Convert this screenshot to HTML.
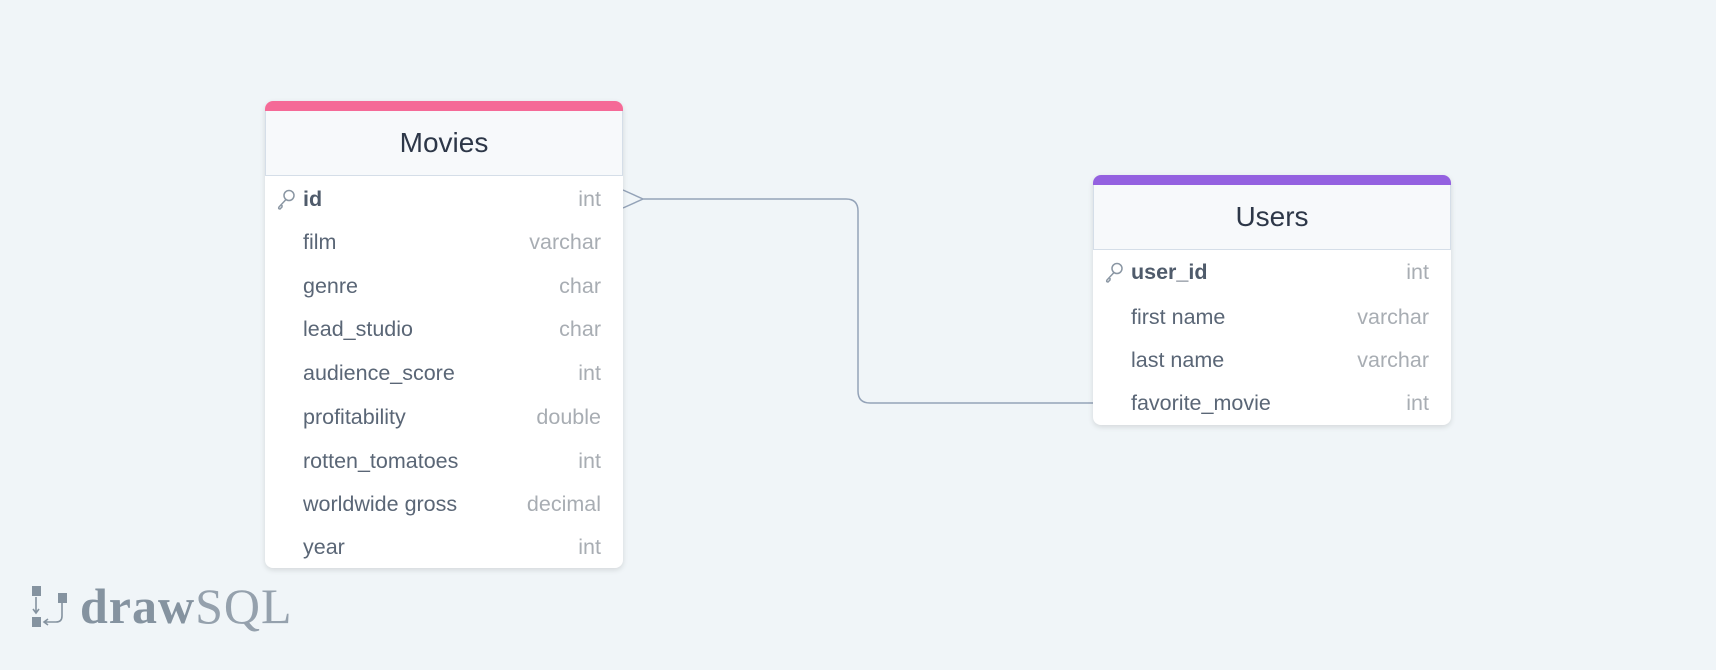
<!DOCTYPE html>
<html><head><style>
body{margin:0;width:1716px;height:670px;background:#f0f5f8;position:relative;overflow:hidden;font-family:"Liberation Sans",sans-serif}
.t{position:absolute;background:#fff;border-radius:8px;box-shadow:0 2px 6px rgba(0,0,0,.12);overflow:hidden}
.bar{height:10px}
.hd{background:#f7f9fb;border:1px solid #d5dee8;border-top:none;display:flex;align-items:center;justify-content:center;font-size:28px;color:#2d3748;box-sizing:border-box}
.r{position:absolute;left:0;right:0;height:44px;display:flex;align-items:center;font-size:21.5px;color:#5a6676}
.r .n{position:absolute;left:38px}
.r .ty{position:absolute;right:22px;color:#a8adb3}
.r b{color:#4f5b6b}
.k{position:absolute;left:11px;top:12px}
</style></head><body>
<svg width="1716" height="670" style="position:absolute;left:0;top:0">
<path d="M623 190 L643 199 L623 208 M643 199 L846 199 Q858 199 858 211 L858 391 Q858 403 870 403 L1093 403" fill="none" stroke="#94a3b8" stroke-width="1.5"/>
</svg>
<div class="t" style="left:265px;top:101px;width:358px;height:467px">
<div class="bar" style="background:#f56a97"></div>
<div class="hd" style="height:65px">Movies</div>
<div class="r" style="top:76px"><svg class="k" width="20" height="22" viewBox="0 0 20 22"><circle cx="13" cy="6.5" r="5" fill="none" stroke="#8a96a3" stroke-width="1.5"/><path d="M10 10.5 L3 18 Q2 20 4 20 L6 18 L6 16" fill="none" stroke="#8a96a3" stroke-width="1.5"/></svg><span class="n"><b>id</b></span><span class="ty">int</span></div>
<div class="r" style="top:119px"><span class="n">film</span><span class="ty">varchar</span></div>
<div class="r" style="top:163px"><span class="n">genre</span><span class="ty">char</span></div>
<div class="r" style="top:206px"><span class="n">lead_studio</span><span class="ty">char</span></div>
<div class="r" style="top:250px"><span class="n">audience_score</span><span class="ty">int</span></div>
<div class="r" style="top:294px"><span class="n">profitability</span><span class="ty">double</span></div>
<div class="r" style="top:338px"><span class="n">rotten_tomatoes</span><span class="ty">int</span></div>
<div class="r" style="top:381px"><span class="n">worldwide gross</span><span class="ty">decimal</span></div>
<div class="r" style="top:424px"><span class="n">year</span><span class="ty">int</span></div>
</div>
<div class="t" style="left:1093px;top:175px;width:358px;height:250px">
<div class="bar" style="background:#9461e0"></div>
<div class="hd" style="height:65px">Users</div>
<div class="r" style="top:75px"><svg class="k" width="20" height="22" viewBox="0 0 20 22"><circle cx="13" cy="6.5" r="5" fill="none" stroke="#8a96a3" stroke-width="1.5"/><path d="M10 10.5 L3 18 Q2 20 4 20 L6 18 L6 16" fill="none" stroke="#8a96a3" stroke-width="1.5"/></svg><span class="n"><b>user_id</b></span><span class="ty">int</span></div>
<div class="r" style="top:120px"><span class="n">first name</span><span class="ty">varchar</span></div>
<div class="r" style="top:163px"><span class="n">last name</span><span class="ty">varchar</span></div>
<div class="r" style="top:206px"><span class="n">favorite_movie</span><span class="ty">int</span></div>
</div>
<div style="position:absolute;left:31px;top:584px;width:40px;height:46px">
<div style="position:absolute;left:1px;top:2px;width:9px;height:10px;background:#8593a0"></div>
<div style="position:absolute;left:1px;top:33px;width:9px;height:10px;background:#8593a0"></div>
<div style="position:absolute;left:27px;top:9px;width:9px;height:10px;background:#8593a0"></div>
<svg width="40" height="46" style="position:absolute;left:0;top:0"><path d="M5 13 V28 M2 25 L5 29 L8 25 M31 19 V32 Q31 38 25 38 H14 M17 35 L13 38 L17 41" fill="none" stroke="#8593a0" stroke-width="1.6"/></svg>
</div>
<div style="position:absolute;left:80px;top:577px;font-family:'Liberation Serif',serif;font-size:50px;color:#8593a0;line-height:58px"><b style="letter-spacing:1px">draw</b><span style="font-weight:normal;letter-spacing:1px;color:#95a1ad">SQL</span></div>
</body></html>
